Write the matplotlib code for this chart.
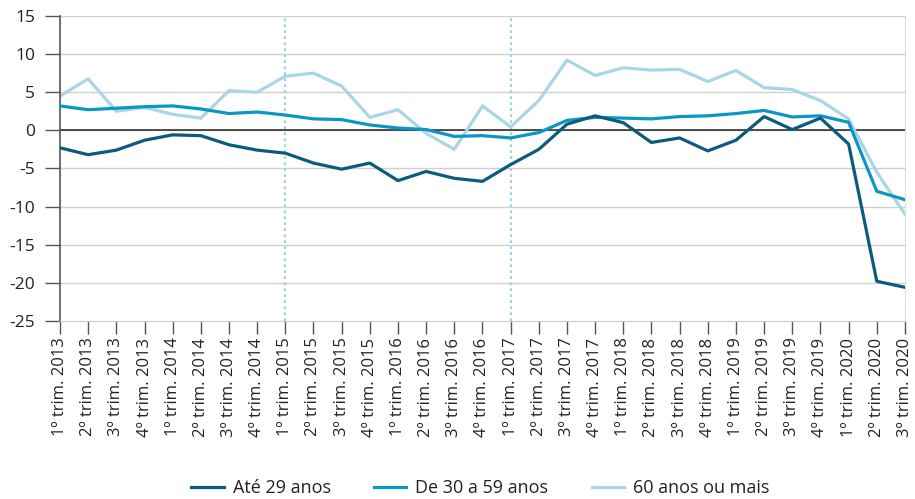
import matplotlib
matplotlib.use("Agg")
import matplotlib.pyplot as plt

# Quarter labels
quarters = []
for year in range(2013, 2021):
    for q in range(1, 5):
        quarters.append(f"{q}º trim. {year}")
quarters = quarters[:31]

ate_29 = [-2.3, -3.2, -2.6, -1.3, -0.6, -0.7, -1.9, -2.6, -3.0,
          -4.3, -5.1, -4.3, -6.6, -5.4, -6.3, -6.7, -4.5, -2.5, 0.8, 1.9,
          1.0, -1.6, -1.0, -2.7, -1.3, 1.8, 0.1, 1.6, -1.8, -19.8, -20.6]
de_30_59 = [3.2, 2.7, 2.9, 3.1, 3.2, 2.8, 2.2, 2.4, 2.0,
            1.5, 1.4, 0.7, 0.3, 0.1, -0.8, -0.7, -1.0, -0.3, 1.3, 1.7,
            1.6, 1.5, 1.8, 1.9, 2.2, 2.6, 1.75, 1.9, 1.05, -8.0, -9.1]
mais_60 = [4.5, 6.75, 2.5, 3.0, 2.1, 1.6, 5.2, 5.0, 7.1,
           7.5, 5.8, 1.7, 2.7, -0.4, -2.5, 3.2, 0.45, 3.9, 9.2, 7.2,
           8.2, 7.9, 8.0, 6.4, 7.85, 5.6, 5.35, 3.9, 1.5, -5.5, -11.0]
marker_quarters = ["1º trim. 2015", "1º trim. 2017"]

plt.rcParams["font.family"] = ["Open Sans", "DejaVu Sans"]
plt.rcParams["axes.unicode_minus"] = False

fig = plt.figure(figsize=(9.15, 4.99), dpi=100)
ax = fig.add_axes([0.0656, 0.357, 0.9234, 0.611])

x = list(range(len(quarters)))

# Grid and reference lines
for v in range(-20, 16, 5):
    ax.axhline(v, color="#d0d0d0", lw=1.0, zorder=0)
ax.axhline(0, color="#222222", lw=1.1, zorder=1)
for mq in marker_quarters:
    ax.axvline(quarters.index(mq), color="#9fcfe0", lw=1.6, ls=(0, (1.2, 1.5)), zorder=1)

ax.plot(x, mais_60, color="#a9d6e5", lw=2.3, label="60 anos ou mais", zorder=2)
ax.plot(x, de_30_59, color="#0b97c4", lw=2.3, label="De 30 a 59 anos", zorder=3)
ax.plot(x, ate_29, color="#0d5b7c", lw=2.3, label="Até 29 anos", zorder=4)

ax.set_xlim(0, len(quarters) - 1)
ax.set_ylim(-25, 15)
ax.set_yticks(range(-25, 16, 5))
ax.set_xticks(x)
ax.set_xticklabels(quarters, rotation=90, fontsize=12, color="#222222")
ax.tick_params(axis="y", length=11, width=1, color="#555555", labelsize=12.5, labelcolor="#222222", pad=7)
ax.tick_params(axis="x", length=9, width=1, color="#555555", pad=3)

ax.spines["left"].set_color("#555555")
ax.spines["left"].set_linewidth(1.2)
ax.spines["bottom"].set_color("#cccccc")
ax.spines["top"].set_visible(False)
ax.spines["right"].set_color("#dddddd")

handles, labels = ax.get_legend_handles_labels()
order = [2, 1, 0]
fig.legend([handles[i] for i in order], [labels[i] for i in order],
           loc="center", bbox_to_anchor=(0.525, 0.022), ncol=3, frameon=False,
           fontsize=13, handlelength=1.8, handletextpad=0.5, columnspacing=2.4,
           labelcolor="#222222")

fig.savefig("out.png", dpi=100)
